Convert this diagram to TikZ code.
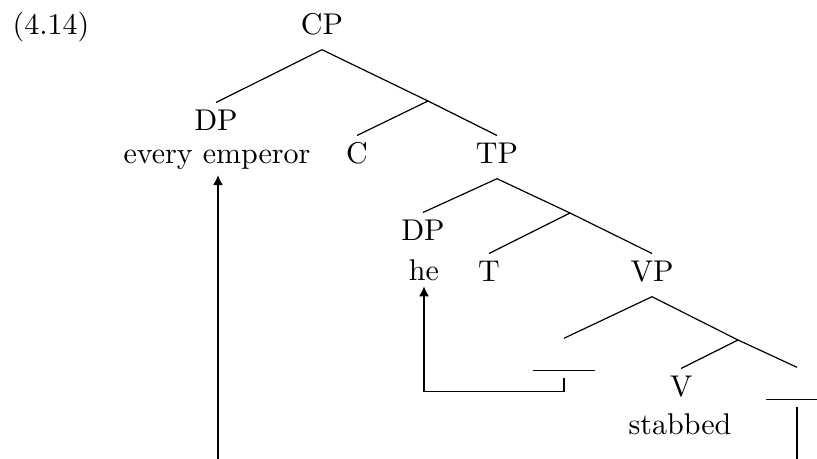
\documentclass[tikz,border=0pt]{standalone}
\usetikzlibrary{arrows.meta}

\tikzset{
  cat/.style={anchor=base, inner sep=0pt, text height=9.3pt, text depth=4.7pt},
  word/.style={anchor=base, inner sep=1.5pt},
  trace/.style={anchor=base, inner sep=0pt, text height=10.7pt, text depth=2.3pt},
  move/.style={-{Latex[length=3.3pt,width=3.3pt]}}
}
\newcommand{\tracegap}{\rule{20.7pt}{0.4pt}}

\begin{document}
\begin{tikzpicture}[x=0.3333pt,y=0.3333pt,yscale=-1,xscale=1]
		\useasboundingbox (0,0) rectangle (817,459);
		
		% Text Node
		\node (num) [anchor=base west, inner sep=0pt] at (12,35) {(4.14)};
		% Text Node
		\node (cp) [cat] at (322,35) {CP};
		% Text Node
		\node (dpa) [cat] at (216,131) {DP};
		% Text Node
		\node (emp) [word] at (217,164) {every emperor};
		% Text Node
		\node (c) [cat] at (357,164) {C};
		% Text Node
		\node (tp) [cat] at (497,164) {TP};
		% Text Node
		\node (dpb) [cat] at (423,241) {DP};
		% Text Node
		\node (he) [word] at (424,281) {he};
		% Text Node
		\node (t) [cat] at (489,282) {T};
		% Text Node
		\node (vp) [cat] at (652,282) {VP};
		% Text Node
		\node (gapa) [trace] at (564,371) {\tracegap};
		% Text Node
		\node (v) [cat] at (681,397) {V};
		% Text Node
		\node (stab) [word] at (680,435) {stabbed};
		% Text Node
		\node (gapb) [trace] at (797,400) {\tracegap};
		
		% bar levels
		\coordinate (cbar) at (428,101);
		\coordinate (tbar) at (570,213);
		\coordinate (vbar) at (738,340);
		% lower edge
		\coordinate (botl) at (218,459);
		\coordinate (botr) at (797,459);
		
		%Straight Lines
		\draw (cp.south) -- (dpa.north);
		\draw (cp.south) -- (cbar) -- (tp.north);
		\draw (cbar) -- (c.north);
		%Straight Lines
		\draw (tp.south) -- (dpb.north);
		\draw (tp.south) -- (tbar) -- (vp.north);
		\draw (tbar) -- (t.north);
		%Straight Lines
		\draw (vp.south) -- (gapa.north);
		\draw (vp.south) -- (vbar) -- (gapb.north);
		\draw (vbar) -- (v.north);
		
		%Arrows
		\draw [move] (gapa.south) -- ++(0,13) -| (he.south);
		\draw [move] (botl) -- (botl |- emp.south);
		\draw (gapb.south) -- (botr);
	\end{tikzpicture}
\end{document}
